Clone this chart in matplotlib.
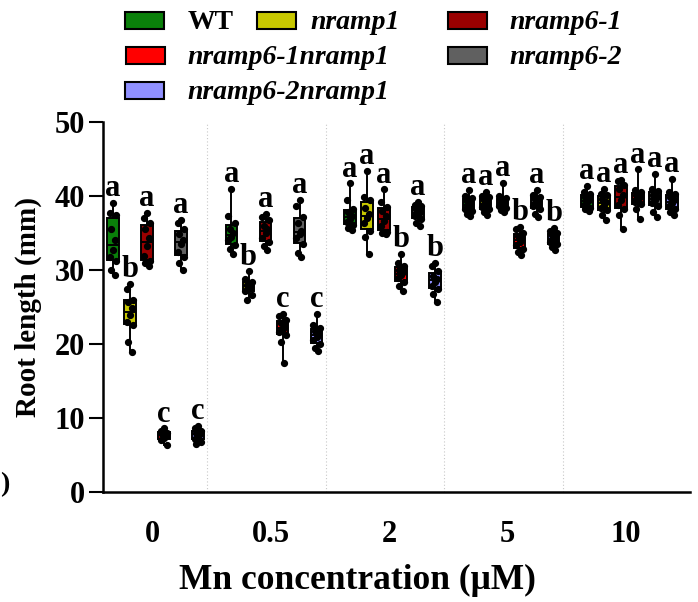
import matplotlib
matplotlib.use("Agg")
import matplotlib.pyplot as plt
from matplotlib.patches import Rectangle

plt.rcParams['font.family'] = ['Liberation Serif', 'DejaVu Serif']
plt.rcParams['font.weight'] = 'bold'

concentrations = ['0', '0.5', '2', '5', '10']
genotypes = ['WT', 'nramp1', 'nramp6-1', 'nramp6-1nramp1', 'nramp6-2', 'nramp6-2nramp1']
colors = ['#0a800a', '#c8c800', '#9a0000', '#ff0000', '#606060', '#9090ff']

# root length (mm) per genotype, one list per concentration
wt = [
    [39.1, 37.7, 37.5, 35.5, 34.0, 32.7, 31.7, 31.2, 30.0, 29.3],
    [41.0, 37.3, 36.3, 35.5, 35.0, 34.5, 34.0, 33.4, 32.8, 32.2],
    [41.7, 39.5, 38.3, 37.8, 37.3, 36.9, 36.5, 36.1, 35.7, 35.4],
    [40.8, 40.0, 39.7, 39.3, 39.0, 38.7, 38.3, 38.0, 37.6, 37.3],
    [41.4, 40.6, 40.3, 39.9, 39.5, 39.2, 38.8, 38.4, 38.2, 38.0],
]
nramp1 = [
    [28.1, 27.4, 26.0, 25.7, 24.8, 23.9, 23.0, 22.6, 20.3, 18.9],
    [29.8, 28.8, 28.4, 28.0, 27.8, 27.5, 27.2, 26.6, 25.9],
    [43.4, 39.9, 39.5, 38.4, 37.6, 37.0, 36.3, 35.3, 34.5, 32.2],
    [40.6, 40.0, 39.8, 39.4, 39.1, 38.8, 38.5, 38.2, 37.8, 37.4],
    [41.0, 40.3, 40.1, 39.6, 39.2, 38.8, 38.4, 38.1, 37.4, 36.8],
]
nramp6_1 = [
    [37.7, 37.0, 36.3, 35.5, 34.3, 33.3, 31.9, 31.2, 30.9, 30.5],
    [37.6, 37.1, 36.7, 36.0, 35.5, 35.0, 34.3, 33.8, 33.3, 32.7],
    [40.9, 39.2, 38.5, 38.0, 37.3, 36.6, 36.0, 35.2, 35.0, 34.8],
    [41.8, 40.0, 39.7, 39.4, 39.2, 39.0, 38.7, 38.4, 38.1, 37.8],
    [42.2, 42.0, 41.5, 40.9, 40.2, 39.5, 38.8, 38.2, 37.5, 35.6],
]
nramp6_1nramp1 = [
    [8.6, 8.3, 8.0, 7.8, 7.6, 7.3, 7.0, 6.4],
    [24.1, 23.8, 23.3, 22.8, 22.4, 22.0, 21.6, 21.2, 20.3, 17.4],
    [32.2, 31.0, 30.6, 30.0, 29.7, 29.3, 28.9, 28.4, 27.8, 27.2],
    [35.8, 35.5, 35.0, 34.6, 34.2, 33.8, 33.4, 32.9, 32.4, 32.0],
    [43.6, 40.8, 40.5, 40.1, 39.8, 39.5, 39.2, 38.9, 38.2, 36.9],
]
nramp6_2 = [
    [36.8, 36.3, 35.5, 34.8, 34.1, 33.5, 32.5, 31.8, 31.0, 30.0],
    [39.5, 38.6, 37.2, 36.3, 35.3, 34.9, 34.3, 33.5, 32.3, 31.7],
    [39.2, 38.8, 38.6, 38.2, 37.9, 37.6, 37.3, 36.9, 36.4, 35.9],
    [40.8, 40.2, 39.9, 39.6, 39.2, 38.9, 38.6, 38.3, 37.6, 37.1],
    [43.0, 41.0, 40.7, 40.2, 39.8, 39.5, 39.1, 38.6, 37.8, 37.2],
]
nramp6_2nramp1 = [
    [8.9, 8.6, 8.3, 8.0, 7.8, 7.5, 7.2, 6.8, 6.5],
    [24.1, 22.6, 22.1, 21.7, 21.3, 21.0, 20.5, 20.0, 19.5, 19.0],
    [31.0, 30.5, 29.8, 29.2, 28.8, 28.4, 27.9, 27.4, 26.8, 25.7],
    [35.7, 35.3, 35.0, 34.7, 34.4, 34.1, 33.8, 33.5, 33.1, 32.7],
    [42.3, 40.6, 40.3, 39.8, 39.4, 39.0, 38.6, 38.2, 37.8, 37.4],
]
all_data = [wt, nramp1, nramp6_1, nramp6_1nramp1, nramp6_2, nramp6_2nramp1]

# significance letters, one string per concentration (genotype order)
letters = ['abacac', 'abacac', 'aaabab', 'aaabab', 'aaaaaa']

fig = plt.figure(figsize=(6.98, 6.02), dpi=100)
ax = fig.add_axes([103 / 698, 110 / 602, 587 / 698, 370 / 602])

step = 0.1435
width = 0.095
jitter = [0, -0.3, 0.3, -0.15, 0.15]

for g in range(len(concentrations)):
    for k, series in enumerate(all_data):
        vals = series[g]
        pos = g + (k - 2.5) * step
        ax.boxplot(vals, positions=[pos], widths=width, whis=(0, 100),
                   patch_artist=True, showfliers=False, showcaps=False,
                   boxprops=dict(facecolor=colors[k], edgecolor='black', linewidth=1.4),
                   medianprops=dict(color='black', linewidth=1.4),
                   whiskerprops=dict(color='black', linewidth=1.4))
        xs = [pos + jitter[i % 5] * width for i in range(len(vals))]
        ax.plot(xs, vals, 'o', color='black', markersize=4.2, zorder=4)
        ax.text(pos, max(vals) + 0.9, letters[g][k], ha='center', va='baseline',
                fontsize=22, fontweight='bold')

for g in range(len(concentrations) - 1):
    ax.axvline(g + 0.435, color='#c8c8c8', linestyle=(0, (1, 2)), linewidth=0.8, zorder=0)

ax.set_xlim(-0.443, 4.51)
ax.set_ylim(0, 50)
ax.set_yticks(range(0, 51, 10))
ax.set_xticks([g - 0.03 for g in range(len(concentrations))])
ax.set_xticklabels(concentrations)
ax.tick_params(axis='x', length=0, pad=20, labelsize=22)
ax.tick_params(axis='y', length=10, width=1.5, labelsize=22, pad=3)
for s in ['top', 'right']:
    ax.spines[s].set_visible(False)
ax.spines['left'].set_linewidth(1.8)
ax.spines['bottom'].set_linewidth(1.8)

ax.set_ylabel('Root length (mm)', fontsize=21, fontweight='bold')
ax.yaxis.set_label_coords(-0.104, 0.5)
fig.text(357 / 698, 1 - 580 / 602, 'Mn concentration (\u03bcM)', ha='center', va='center',
         fontsize=25.5, fontweight='bold')
fig.text(0.0, 1 - 485 / 602, ')', ha='left', va='center', fontsize=20)

# legend drawn by hand to follow the original layout
legend_items = [
    (0, 125, 29, 188, 'normal'),
    (1, 257, 29, 310, 'italic'),
    (2, 448, 29, 509, 'italic'),
    (3, 126, 64, 187, 'italic'),
    (4, 448, 64, 509, 'italic'),
    (5, 125, 99, 187, 'italic'),
]
for k, px, base, tx, style in legend_items:
    fig.patches.append(Rectangle((px / 698, 1 - base / 602), 39 / 698, 17 / 602,
                                 facecolor=colors[k], edgecolor='black', linewidth=1.5,
                                 transform=fig.transFigure))
    fig.text(tx / 698, 1 - base / 602, genotypes[k], ha='left', va='baseline',
             fontsize=20, fontweight='bold', fontstyle=style)

fig.savefig('out.png', dpi=100)
